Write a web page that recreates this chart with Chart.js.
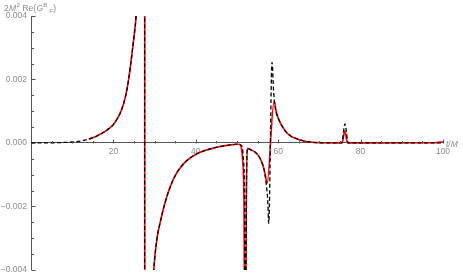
<!DOCTYPE html>
<html>
<head>
<meta charset="utf-8">
<script src="https://cdn.jsdelivr.net/npm/chart.js@4.4.1/dist/chart.umd.min.js"></script>
<style>
  html, body { margin: 0; padding: 0; background: #fff; }
</style>
</head>
<body>
<canvas id="grafico" width="463" height="279"></canvas>
<script>
// --- datos (t/M y 2M^2 Re(G^B_F)) ---
// curva exacta (negra, discontinua)
const tExacta = [0, 4, 8, 10, 12, 14, 16, 17, 18.5, 20,
    21, 22, 23, 23.7, 24.5, 25.1, 25.5, 26.2, 26.8, 27.3,
    27.55, 27.65, 28.1, 28.6, 29.2, 29.8, 30.6, 31.4, 32.6, 34.6,
    37, 40.3, 45.1, 48, 50, 51.2, 51.6, 51.85, 52.0, 52.3,
    52.5, 53.4, 54.4, 55.2, 56.0, 56.6, 57.1, 57.45, 57.7, 58.5,
    58.9, 59.3, 60.1, 61.0, 61.7, 63, 64.1, 66, 68.2, 71,
    75.4, 76.2, 77.0, 80, 100];
const vExacta = [0, 0.000003, 0.000015, 0.00003, 0.00006, 0.00012, 0.00022, 0.00029, 0.00041, 0.00058,
    0.00078, 0.00105, 0.0015, 0.002, 0.0028, 0.00346, 0.004, 0.006, 0.0105, 0.028,
    0.17, -0.18, -0.018, -0.009, -0.0057, -0.004, -0.003, -0.00248, -0.00185, -0.00113,
    -0.00066, -0.00034, -0.000135, -0.00007, -0.00004, -0.0001, -0.0006, -0.002, -0.01, -0.0015,
    -0.00017, -0.00022, -0.00029, -0.0004, -0.0006, -0.00085, -0.0013, -0.0018, -0.00253, 0.00254,
    0.0016, 0.0011, 0.00075, 0.00052, 0.00038, 0.00022, 0.00015, 0.00007, 0.00002, 0.000005,
    0, 0.0006, 0, 0, 0];

// curva aproximada (roja, continua)
const tAprox = [14, 16, 17, 18.5, 20, 21, 22, 23, 23.7, 24.5,
    25.1, 25.5, 26.2, 26.8, 27.3, 27.55, 27.65, 28.1, 28.6, 29.2,
    29.8, 30.6, 31.4, 32.6, 34.6, 37, 40.3, 45.1, 48, 50,
    50.6, 51.0, 51.4, 51.7, 51.95, 52.25, 52.5, 53.4, 54.4, 55.2,
    56.0, 56.6, 57.0, 57.3, 59.0, 59.5, 60.1, 61.0, 61.7, 63,
    64.1, 66, 68.2, 71, 75.5, 76.2, 76.8, 80, 98, 100];
const vAprox = [0.00012, 0.00022, 0.00029, 0.00041, 0.00058, 0.00078, 0.00105, 0.0015, 0.002, 0.0028,
    0.00346, 0.004, 0.006, 0.0105, 0.028, 0.17, -0.18, -0.018, -0.009, -0.0057,
    -0.004, -0.003, -0.00248, -0.00185, -0.00113, -0.00066, -0.00034, -0.000135, -0.00007, -0.00004,
    -0.00005, -0.00012, -0.0006, -0.002, -0.01, -0.002, -0.00017, -0.00022, -0.00029, -0.0004,
    -0.0006, -0.00085, -0.0011, -0.00128, 0.00132, 0.001, 0.00075, 0.00052, 0.00038, 0.00022,
    0.00015, 0.00007, 0.00002, 0.000005, 0, 0.00038, 0, 0, 0.000005, 0.00004];

// marcas de los ejes
const ticksX = [20, 40, 60, 80, 100];
const ticksY = [-0.004, -0.002, 0, 0.002, 0.004];
const pasoMenorX = 5;
const pasoMenorY = 0.0005;

const colorEje = '#555555';
const colorTexto = '#8a8a8a';
const fuente = "'Liberation Sans', Arial, sans-serif";

function formatY(v) {
    if (Math.abs(v) < 1e-9) return '0.000';
    return (v < 0 ? '\u2212' : '') + Math.abs(v).toFixed(3);
}

// --- plugin: marcas menores/mayores hacia dentro y rótulos de los ejes ---
const ejesMathematica = {
    id: 'ejesMathematica',
    afterDraw(chart) {
        const { ctx, chartArea, scales: { x, y } } = chart;
        const y0 = Math.round(y.getPixelForValue(0)) + 0.5;
        const x0 = Math.round(chartArea.left) + 0.5;

        ctx.save();
        ctx.strokeStyle = colorEje;
        ctx.lineWidth = 1;
        ctx.beginPath();
        // eje x: marcas hacia arriba
        for (let t = pasoMenorX; t <= x.max + 1e-9; t += pasoMenorX) {
            const px = Math.round(x.getPixelForValue(t)) + 0.5;
            const largo = ticksX.includes(t) ? 4 : 2.5;
            ctx.moveTo(px, y0);
            ctx.lineTo(px, y0 - largo);
        }
        // eje y: marcas hacia la derecha
        for (let k = -8; k <= 8; k++) {
            const v = k * pasoMenorY;
            const py = Math.round(y.getPixelForValue(v)) + 0.5;
            const largo = (k % 4 === 0) ? 4 : 2.5;
            ctx.moveTo(x0, py);
            ctx.lineTo(x0 + largo, py);
        }
        ctx.stroke();

        // rótulo eje y: 2M² Re(G^B_F)
        ctx.fillStyle = colorTexto;
        ctx.textBaseline = 'alphabetic';
        const normal = '8.5px ' + fuente;
        const italica = 'italic 8.5px ' + fuente;
        const chica = '6px ' + fuente;
        const piezas = [
            { s: '2', f: normal, dy: 0 },
            { s: 'M', f: italica, dy: 0 },
            { s: '2', f: chica, dy: -4 },
            { s: ' Re(', f: normal, dy: 0 },
            { s: 'G', f: italica, dy: 0 },
            { s: 'B', f: chica, dy: -4 },
            { s: ' F', f: chica, dy: 1.5 },
            { s: ')', f: normal, dy: 0 }
        ];
        let cx = 4;
        piezas.forEach(p => {
            ctx.font = p.f;
            ctx.fillText(p.s, cx, 11 + p.dy);
            cx += ctx.measureText(p.s).width + 0.3;
        });

        // rótulo eje x: t/M
        let tx = 446;
        [{ s: 't', f: italica }, { s: '/', f: normal }, { s: 'M', f: italica }].forEach(p => {
            ctx.font = p.f;
            ctx.fillText(p.s, tx, 146.5);
            tx += ctx.measureText(p.s).width;
        });
        ctx.restore();
    }
};

function armarGrafico() {
    Chart.defaults.font.family = fuente;
    Chart.defaults.font.size = 8.5;
    Chart.defaults.color = colorTexto;

    const datosExacta = tExacta.map((t, i) => ({ x: t, y: vExacta[i] }));
    const datosAprox = tAprox.map((t, i) => ({ x: t, y: vAprox[i] }));

    const ctx = document.getElementById('grafico');
    window.miGrafico = new Chart(ctx.getContext('2d'), {
        type: 'line',
        data: {
            datasets: [{
                label: 'exacta',
                data: datosExacta,
                borderColor: '#000000',
                borderWidth: 1.3,
                borderDash: [4, 2.5],
                pointRadius: 0,
                cubicInterpolationMode: 'monotone',
                clip: 0,
                order: 0
            }, {
                label: 'aproximada',
                data: datosAprox,
                borderColor: '#ff0000',
                borderWidth: 1.6,
                pointRadius: 0,
                cubicInterpolationMode: 'monotone',
                clip: 0,
                order: 1
            }]
        },
        options: {
            responsive: false,
            animation: false,
            layout: { padding: { left: 0, top: 16, right: 20, bottom: 7 } },
            plugins: { legend: { display: false }, tooltip: { enabled: false } },
            scales: {
                x: {
                    type: 'linear',
                    min: 0,
                    max: 100,
                    position: { y: 0 },
                    afterBuildTicks: s => { s.ticks = ticksX.map(v => ({ value: v })); },
                    ticks: { padding: 3.5, color: colorTexto, maxRotation: 0, autoSkip: false },
                    grid: { display: false, drawTicks: false },
                    border: { display: true, color: colorEje, width: 1 }
                },
                y: {
                    type: 'linear',
                    min: -0.004,
                    max: 0.004,
                    position: 'left',
                    afterBuildTicks: s => { s.ticks = ticksY.map(v => ({ value: v })); },
                    afterFit: s => { s.width = 31; },
                    ticks: { padding: 4, color: colorTexto, callback: v => formatY(v) },
                    grid: { display: false, drawTicks: false },
                    border: { display: true, color: colorEje, width: 1 }
                }
            }
        },
        plugins: [ejesMathematica]
    });
}

document.addEventListener('DOMContentLoaded', armarGrafico);
</script>
</body>
</html>
